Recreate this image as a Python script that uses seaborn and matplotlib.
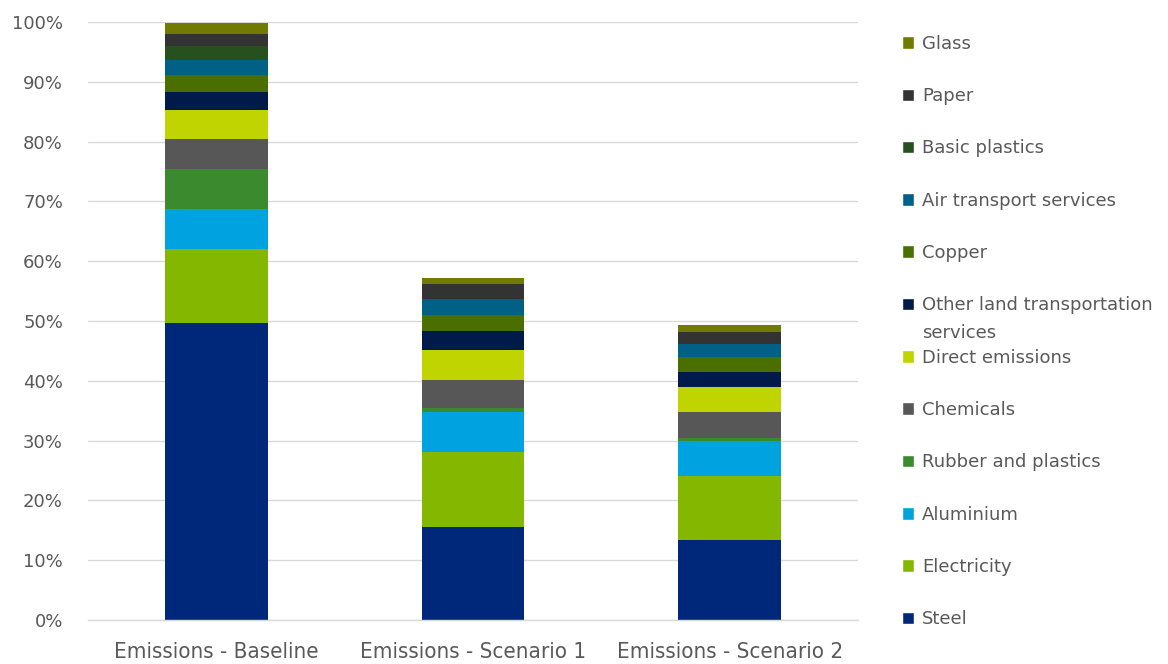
import numpy as np
import pandas as pd
import matplotlib.pyplot as plt
import seaborn as sns
from matplotlib.patches import Patch
from matplotlib.ticker import PercentFormatter

scenarios = ['Emissions - Baseline', 'Emissions - Scenario 1', 'Emissions - Scenario 2']

# stacking order bottom -> top
sectors = ['Steel', 'Electricity', 'Aluminium', 'Rubber and plastics', 'Chemicals',
           'Direct emissions', 'Other land transportation services', 'Copper',
           'Air transport services', 'Basic plastics', 'Paper', 'Glass']

steel = [49.6, 15.5, 13.3]
electricity = [12.5, 12.6, 10.8]
aluminium = [6.6, 6.6, 5.8]
rubber = [6.7, 0.8, 0.5]
chemicals = [5.0, 4.7, 4.4]
direct = [4.8, 5.0, 4.1]
other_land = [3.1, 3.1, 2.5]
copper = [2.9, 2.7, 2.6]
air = [2.4, 2.6, 2.1]
basic_plastics = [2.4, 0.1, 0.1]
paper = [2.0, 2.4, 2.0]
glass = [1.9, 1.1, 1.2]

colors = ['#00287a', '#84b800', '#00a3e0', '#3c8a2e', '#575757', '#bfd400',
          '#001a4a', '#4a6e00', '#006085', '#26511f', '#333333', '#717b00']

df = pd.DataFrame([steel, electricity, aluminium, rubber, chemicals, direct,
                   other_land, copper, air, basic_plastics, paper, glass],
                  index=sectors, columns=scenarios)

sns.set_style('white')
fig = plt.figure(figsize=(11.68, 6.64), dpi=100)
ax = fig.add_axes([0.0753, 0.0663, 0.6593, 0.9006])

bottom = np.zeros(len(scenarios))
for sec, col in zip(sectors, colors):
    sns.barplot(x=scenarios, y=df.loc[sec].values, bottom=bottom, color=col,
                saturation=1, width=0.4, errorbar=None, linewidth=0, ax=ax)
    bottom += df.loc[sec].values

ax.set_ylim(0, 100)
ax.set_xlim(-0.5, 2.5)
ax.set_yticks(range(0, 101, 10))
ax.yaxis.set_major_formatter(PercentFormatter(decimals=0))
ax.grid(axis='y', color='#d9d9d9', linewidth=1)
ax.set_axisbelow(True)
for s in ['left', 'right', 'top']:
    ax.spines[s].set_visible(False)
ax.spines['bottom'].set_color('#d9d9d9')
ax.spines['bottom'].set_linewidth(1)

ax.tick_params(axis='y', length=0, pad=18, labelsize=13, labelcolor='#595959')
ax.tick_params(axis='x', which='major', length=0, pad=16, labelsize=16, labelcolor='#595959')
ax.set_xticks([-0.5, 0.5, 1.5, 2.5], minor=True)
ax.tick_params(axis='x', which='minor', length=6, color='#d9d9d9', width=1)
for t in ax.get_yticklabels():
    t.set_family('DejaVu Sans')
for t in ax.get_xticklabels():
    t.set_family('DejaVu Sans')
    t.set_stretch('condensed')
ax.set_xlabel('')
ax.set_ylabel('')

# legend, top to bottom; the long label wraps onto a second line like in Excel
labels = ['Glass', 'Paper', 'Basic plastics', 'Air transport services', 'Copper',
          'Other land transportation', 'Direct emissions', 'Chemicals',
          'Rubber and plastics', 'Aluminium', 'Electricity', 'Steel']
handles = [Patch(facecolor=c) for c in colors[::-1]]
leg = fig.legend(handles, labels, loc='upper left', bbox_to_anchor=(0.758, 0.972),
                 frameon=False, handlelength=0.7, handleheight=0.7, handletextpad=0.45,
                 labelspacing=1.9, prop={'family': 'DejaVu Sans', 'size': 13})
for t in leg.get_texts():
    t.set_color('#595959')

fig.canvas.draw()
bb = leg.get_texts()[5].get_window_extent()
W, H = fig.bbox.width, fig.bbox.height
fig.text(bb.x0 / W, (bb.y0 - 10) / H, 'services', va='top', ha='left',
         family='DejaVu Sans', size=13, color='#595959')

fig.savefig('out.png', dpi=100)
